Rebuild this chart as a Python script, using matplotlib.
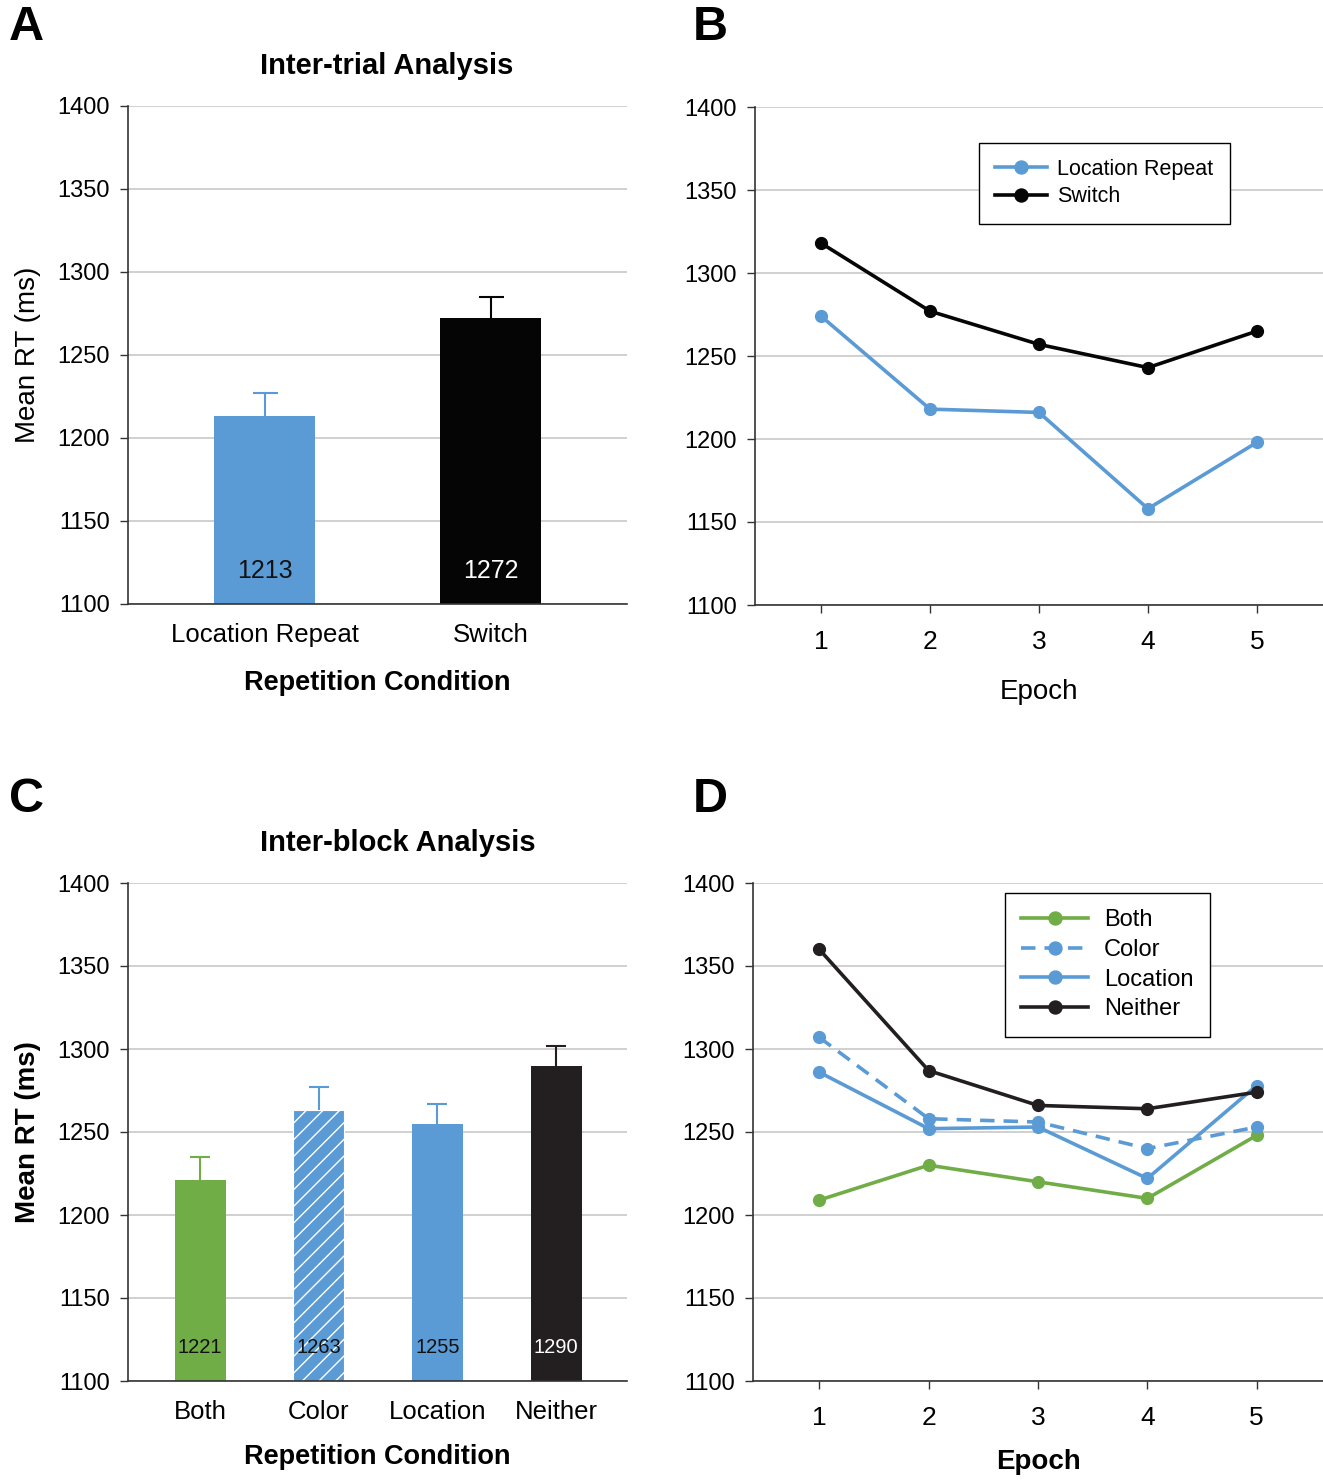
import matplotlib.pyplot as plt
import numpy as np

plt.rcParams['font.family'] = ['Liberation Sans', 'DejaVu Sans']

# Panel A - inter-trial bars
trial_conds = ['Location Repeat', 'Switch']
trial_means = [1213, 1272]
trial_err = [14, 13]

# Panel B - inter-trial by epoch
epochs = [1, 2, 3, 4, 5]
loc_repeat = [1274, 1218, 1216, 1158, 1198]
switch = [1318, 1277, 1257, 1243, 1265]

# Panel C - inter-block bars
block_conds = ['Both', 'Color', 'Location', 'Neither']
block_means = [1221, 1263, 1255, 1290]
block_err = [14, 14, 12, 12]

# Panel D - inter-block by epoch
both = [1209, 1230, 1220, 1210, 1248]
color = [1307, 1258, 1256, 1240, 1253]
location = [1286, 1252, 1253, 1222, 1278]
neither = [1360, 1287, 1266, 1264, 1274]

BLUE = '#5B9BD5'
GREEN = '#70AD47'
BLACK = '#050505'
DARK = '#231F20'
GRID = '#C8C8C8'

W, H = 1323, 1480
fig = plt.figure(figsize=(W / 100, H / 100), dpi=100)


def px_axes(l, t, r, b):
    return fig.add_axes([l / W, 1 - b / H, (r - l) / W, (b - t) / H])


def style(ax):
    ax.set_ylim(1100, 1400)
    ax.set_yticks(range(1100, 1401, 50))
    ax.yaxis.grid(True, color=GRID, lw=1.2)
    ax.set_axisbelow(True)
    for s in ['top', 'right']:
        ax.spines[s].set_visible(False)
    ax.spines['left'].set_color('#333333')
    ax.spines['bottom'].set_color('#333333')
    ax.spines['left'].set_linewidth(1.2)
    ax.spines['bottom'].set_linewidth(1.2)
    ax.tick_params(axis='y', length=6, width=1, labelsize=17, pad=7, color='#333333')
    ax.tick_params(axis='x', length=6, width=1, color='#333333')


def up_err(ax, x, y, e, col, cap):
    eb = ax.errorbar(x, y, yerr=[[0], [e]], ecolor=col, elinewidth=1.5, capsize=cap,
                     capthick=1.5, fmt='none', zorder=3)
    eb[1][0].set_visible(False)


# ---- A ----
axA = px_axes(128, 106, 627, 604)
style(axA)
xa = np.arange(len(trial_conds))
bar_cols = [BLUE, BLACK]
axA.bar(xa, trial_means, width=0.447, color=bar_cols, zorder=2)
for i in range(len(xa)):
    up_err(axA, xa[i], trial_means[i], trial_err[i], bar_cols[i], 9)
axA.text(xa[0], 1120, str(trial_means[0]), ha='center', va='center', fontsize=18, color='#111111')
axA.text(xa[1], 1120, str(trial_means[1]), ha='center', va='center', fontsize=18, color='white')
axA.set_xlim(-0.606, 1.602)
axA.set_xticks(xa)
axA.set_xticklabels(trial_conds, fontsize=18.5)
axA.tick_params(axis='x', length=0, pad=14)
axA.set_xlabel('Repetition Condition', fontsize=19.5, fontweight='bold', labelpad=16)
axA.set_ylabel('Mean RT (ms)', fontsize=20, labelpad=12)
fig.text(387 / W, 1 - 66 / H, 'Inter-trial Analysis', ha='center', va='center', fontsize=21, fontweight='bold')

# ---- B ----
axB = px_axes(755, 107, 1323, 605)
style(axB)
axB.plot(epochs, loc_repeat, color=BLUE, lw=2.6, marker='o', ms=8.5, label='Location Repeat')
axB.plot(epochs, switch, color=BLACK, lw=2.6, marker='o', ms=8.5, label='Switch')
axB.set_xlim(0.394, 5.606)
axB.set_xticks(epochs)
axB.tick_params(axis='x', labelsize=19, pad=12)
axB.set_xlabel('Epoch', fontsize=20, labelpad=18)
legB = axB.legend(loc='upper left', bbox_to_anchor=(0.394, 0.928), fontsize=15.5, fancybox=False,
                  framealpha=1, edgecolor='black', borderpad=0.75, handlelength=2.4, labelspacing=0.3,
                  handletextpad=0.5, borderaxespad=0, markerscale=1.1)
legB.get_frame().set_linewidth(1.0)

# ---- C ----
axC = px_axes(128, 883, 627, 1381)
style(axC)
xc = np.arange(len(block_conds))
ccols = [GREEN, BLUE, BLUE, DARK]
for i in range(len(xc)):
    if block_conds[i] == 'Color':
        axC.bar(xc[i], block_means[i], width=0.43, color=BLUE, edgecolor='white', hatch='//', lw=0.8, zorder=2)
    else:
        axC.bar(xc[i], block_means[i], width=0.43, color=ccols[i], zorder=2)
    up_err(axC, xc[i], block_means[i], block_err[i], ccols[i], 7)
    axC.text(xc[i], 1120, str(block_means[i]), ha='center', va='center', fontsize=14.5,
             color='white' if i == 3 else '#111111', zorder=4)
axC.set_xlim(-0.607, 3.597)
axC.set_xticks(xc)
axC.set_xticklabels(block_conds, fontsize=18.5)
axC.tick_params(axis='x', length=0, pad=14)
axC.set_xlabel('Repetition Condition', fontsize=19.5, fontweight='bold', labelpad=14)
axC.set_ylabel('Mean RT (ms)', fontsize=20, fontweight='bold', labelpad=12)
fig.text(398 / W, 1 - 843 / H, 'Inter-block Analysis', ha='center', va='center', fontsize=21, fontweight='bold')

# ---- D ----
axD = px_axes(753, 883, 1323, 1381)
style(axD)
axD.plot(epochs, both, color=GREEN, lw=2.6, marker='o', ms=8.5, label='Both')
axD.plot(epochs, color, color=BLUE, lw=2.6, ls=(0, (4, 2.5)), marker='o', ms=8.5, label='Color')
axD.plot(epochs, location, color=BLUE, lw=2.6, marker='o', ms=8.5, label='Location')
axD.plot(epochs, neither, color=DARK, lw=2.6, marker='o', ms=8.5, label='Neither')
axD.set_xlim(0.394, 5.606)
axD.set_xticks(epochs)
axD.tick_params(axis='x', labelsize=19, pad=12)
axD.set_xlabel('Epoch', fontsize=20, fontweight='bold', labelpad=14)
legD = axD.legend(loc='upper left', bbox_to_anchor=(0.442, 0.98), fontsize=17, fancybox=False,
                  framealpha=1, edgecolor='black', borderpad=0.7, handlelength=2.8, labelspacing=0.32,
                  handletextpad=0.7, borderaxespad=0, markerscale=1.1)
legD.get_frame().set_linewidth(1.0)

# panel letters
for letter, x, y in [('A', 26, 27), ('B', 710, 27), ('C', 26, 800), ('D', 710, 800)]:
    fig.text(x / W, 1 - y / H, letter, ha='center', va='center', fontsize=35, fontweight='bold')

fig.savefig('out.png', dpi=100)
